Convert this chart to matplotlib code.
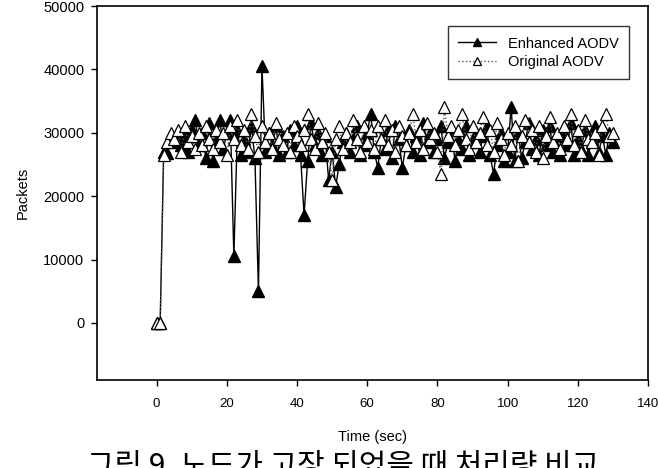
import matplotlib
matplotlib.use("Agg")
import matplotlib.pyplot as plt
from matplotlib.ticker import FixedLocator

plt.rcParams['font.family'] = ['Liberation Sans', 'Noto Sans CJK KR', 'DejaVu Sans']

time = list(range(0, 131))

enhanced = [
    0, 0, 27000, 26800, 29000, 28500, 30000, 28000, 29500, 27000,
    30500, 32000, 28000, 30000, 26000, 31500, 25500, 29000, 32000, 27500,
    30000, 32000, 10500, 30500, 26500, 29000, 27000, 31000, 26000, 5000,
    40500, 27000, 30000, 28000, 31000, 26500, 29500, 27000, 30500, 28000,
    31000, 26500, 17000, 25500, 31500, 28000, 30000, 26500, 29500, 22500,
    27000, 21500, 25000, 28500, 30000, 27000, 29000, 31000, 26500, 28000,
    30000, 33000, 27000, 24500, 29000, 27500, 30500, 26000, 31000, 29000,
    24500, 28000, 30500, 27000, 29500, 26500, 31500, 28500, 30000, 27000,
    29000, 31000, 26000, 28500, 30500, 25500, 29000, 27500, 31000, 26500,
    28500, 30000, 27000, 29500, 31000, 26500, 23500, 28000, 30000, 25500,
    27000, 34000, 25500, 30000, 26000, 28500, 31500, 27500, 29000, 26500,
    30500, 28000, 31000, 27000, 29500, 26500, 30000, 28000, 31500, 26500,
    29000, 27500, 30500, 26500, 29000, 31000, 27000, 29500, 26500, 30000,
    28500,
]

original = [
    0, 0, 26500, 28500, 30000, 29000, 30500, 27000, 31000, 28500,
    29500, 27500, 30000, 28000, 31000, 29000, 27500, 30500, 28500, 30000,
    26500, 31000, 29000, 32000, 28000, 30500, 27500, 33000, 29500, 27000,
    31000, 28500, 30000, 27500, 31500, 29000, 28000, 30000, 27000, 31000,
    29500, 28000, 30500, 33000, 29000, 27500, 31500, 28500, 30000, 27000,
    22500, 29000, 31000, 27500, 30000, 28500, 32000, 29000, 27000, 31000,
    28500, 30500, 27500, 31000, 29000, 32000, 28000, 30500, 27000, 31000,
    29500, 28000, 30000, 33000, 28500, 30500, 27500, 31500, 29000, 30000,
    27000, 23500, 34000, 29500, 31000, 28000, 30500, 33000, 29000, 27500,
    31000, 28500, 30000, 32500, 28000, 30500, 27000, 31500, 29000, 26500,
    30000, 28000, 31000, 25500, 29500, 32000, 28500, 30500, 27000, 31000,
    26000, 29500, 32500, 28500, 30000, 27500, 31000, 29000, 33000, 28000,
    30500, 27000, 32000, 29000, 28500, 30000, 26500, 31000, 33000, 29500,
    30000,
]

x_ticks = [0, 20, 40, 60, 80, 100, 120, 140]
y_ticks = [0, 10000, 20000, 30000, 40000, 50000]

fig = plt.figure(figsize=(6.58, 4.68), dpi=100)
ax = fig.add_axes([97/658, 1-380/468, (648-97)/658, (380-6)/468])

ax.plot(time, enhanced, color='black', linestyle='-', linewidth=1.0,
        marker='^', markersize=8.5, markerfacecolor='black',
        markeredgecolor='black', label='Enhanced AODV', zorder=3)
ax.plot(time, original, color='#555555', linestyle=':', linewidth=1.0,
        marker='^', markersize=8.5, markerfacecolor='white',
        markeredgecolor='black', markeredgewidth=0.9,
        label='Original AODV', zorder=4)

ax.set_xlim(-17, 140)
ax.set_ylim(-9000, 50000)
ax.xaxis.set_major_locator(FixedLocator(x_ticks))
ax.yaxis.set_major_locator(FixedLocator(y_ticks))
ax.set_xticklabels([str(v) for v in x_ticks], fontsize=9.5)
ax.set_yticklabels([str(v) for v in y_ticks], fontsize=10.5)
ax.tick_params(axis='x', direction='out', length=4, width=1, pad=9, top=False)
ax.tick_params(axis='y', direction='out', length=4, width=1, pad=5, right=False)
for s in ax.spines.values():
    s.set_linewidth(1.2)

ax.set_xlabel('Time (sec)', fontsize=10.5, labelpad=14)
ax.set_ylabel('Packets', fontsize=10.5, labelpad=10)

leg = ax.legend(loc='upper right', bbox_to_anchor=(0.979, 0.965), fontsize=10.5,
                frameon=True, fancybox=False, edgecolor='black',
                handlelength=2.6, borderpad=0.7, labelspacing=0.3,
                handletextpad=0.8, markerscale=0.75)
leg.get_frame().set_linewidth(1.0)

fig.text(343/658, 1-466/468, '그림 9. 노드가 고장 되었을 때 처리량 비교',
         fontsize=21.5, ha='center', va='center',
         family=['Noto Sans CJK KR', 'DejaVu Sans'])

fig.savefig('out.png', dpi=100)
